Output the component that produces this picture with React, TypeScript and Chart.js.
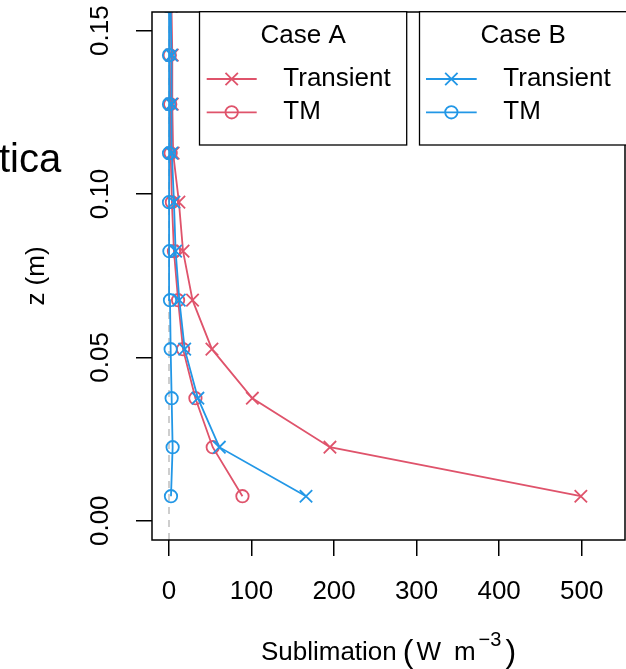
import React, { useEffect, useRef } from "react";
import { Chart, registerables } from "chart.js";

Chart.register(...registerables);

// ---- data ----
const zLevels = [0.0075, 0.0225, 0.0375, 0.0525, 0.0675, 0.0825, 0.0975, 0.1125, 0.1275, 0.1425, 0.1575];
const caseATransient = [499, 195, 101, 52, 28.5, 17, 12, 5, 4, 4, 3];
const caseATM = [89, 53, 32, 17, 11, 6, 3.5, 2, 1.5, 1, 1];
const caseBTransient = [166, 61, 35, 19, 12.5, 8, 6, 3.5, 3, 3, 2];
const caseBTM = [2.4, 4.4, 3.2, 2, 1.2, 0.5, 0, 0, 0, 0, 0];

const xTickValues = [0, 100, 200, 300, 400, 500];
const yTickValues = [0, 0.05, 0.1, 0.15];
const yTickLabels = ["0.00", "0.05", "0.10", "0.15"];

const legendTitles = ["Case A", "Case B"];
const legendLabels = ["Transient", "TM"];
const yTitle = "z (m)";
const sideText = "tica";

const RED = "#DF536B";
const BLUE = "#2297E6";
const FONT = "'Liberation Sans', Arial, Helvetica, sans-serif";
const FS = 26;
const LW = 1.8;
const CIRCLE_R = 6.2;
const CROSS_H = 6.2;

function drawMarker(ctx: CanvasRenderingContext2D, kind: string, x: number, y: number, color: string) {
  ctx.save();
  ctx.strokeStyle = color;
  ctx.lineWidth = LW;
  ctx.beginPath();
  if (kind === "cross") {
    ctx.moveTo(x - CROSS_H, y - CROSS_H);
    ctx.lineTo(x + CROSS_H, y + CROSS_H);
    ctx.moveTo(x - CROSS_H, y + CROSS_H);
    ctx.lineTo(x + CROSS_H, y - CROSS_H);
  } else {
    ctx.arc(x, y, CIRCLE_R, 0, Math.PI * 2);
  }
  ctx.stroke();
  ctx.restore();
}

export default function App() {
  const ref = useRef<HTMLCanvasElement>(null);

  useEffect(() => {
    if (!ref.current) return;
    const pts = (vals: number[]) => vals.map((x, i) => ({ x, y: zLevels[i] }));

    const decor = {
      id: "decor",
      beforeDatasetsDraw(chart: any) {
        const { ctx, chartArea } = chart;
        const x0 = chart.scales.x.getPixelForValue(0);
        ctx.save();
        ctx.strokeStyle = "#BEBEBE";
        ctx.lineWidth = 1.5;
        ctx.setLineDash([7, 6]);
        ctx.beginPath();
        ctx.moveTo(x0, chartArea.bottom);
        ctx.lineTo(x0, chartArea.top);
        ctx.stroke();
        ctx.restore();
      },
      afterDraw(chart: any) {
        const { ctx, chartArea } = chart;
        ctx.save();
        // frame
        ctx.strokeStyle = "#000";
        ctx.lineWidth = 1.5;
        ctx.strokeRect(chartArea.left, chartArea.top, chartArea.right - chartArea.left, chartArea.bottom - chartArea.top);

        // legends
        const boxes = [
          { left: 199.5, color: RED, lineL: 206.7, lineR: 256.7, textX: 283.3 },
          { left: 419.5, color: BLUE, lineL: 426, lineR: 476.7, textX: 503.3 },
        ];
        const boxW = 207.2;
        const boxTop = 11.7;
        const boxBottom = 145;
        boxes.forEach((b, k) => {
          ctx.fillStyle = "#fff";
          ctx.fillRect(b.left, boxTop, boxW, boxBottom - boxTop);
          ctx.strokeStyle = "#000";
          ctx.lineWidth = 1.3;
          ctx.strokeRect(b.left, boxTop, boxW, boxBottom - boxTop);
          ctx.fillStyle = "#000";
          ctx.font = `${FS}px ${FONT}`;
          ctx.textBaseline = "middle";
          ctx.textAlign = "center";
          ctx.fillText(legendTitles[k], b.left + boxW / 2, 35.5);
          const rows = [79, 112.3];
          rows.forEach((ry, r) => {
            ctx.strokeStyle = b.color;
            ctx.lineWidth = LW;
            ctx.beginPath();
            ctx.moveTo(b.lineL, ry);
            ctx.lineTo(b.lineR, ry);
            ctx.stroke();
            drawMarker(ctx, r === 0 ? "cross" : "circle", (b.lineL + b.lineR) / 2, ry, b.color);
            ctx.fillStyle = "#000";
            ctx.textAlign = "left";
            ctx.fillText(legendLabels[r], b.textX, ry);
          });
        });

        // x title with plotmath-like parentheses and superscript
        const big = `${FS + 6}px ${FONT}`;
        const norm = `${FS}px ${FONT}`;
        const sup = `${FS - 6}px ${FONT}`;
        const parts = [
          { t: "Sublimation", f: norm, dy: 0, gap: 0 },
          { t: "(", f: big, dy: 2, gap: 6 },
          { t: "W", f: norm, dy: 0, gap: 3 },
          { t: "m", f: norm, dy: 0, gap: 13 },
          { t: "\u2212", f: sup, dy: -14, gap: 3 },
          { t: "3", f: sup, dy: -14, gap: 0 },
          { t: ")", f: big, dy: 2, gap: 4 },
        ];
        let total = 0;
        parts.forEach((p) => {
          ctx.font = p.f;
          total += p.gap + ctx.measureText(p.t).width;
        });
        let cx = (chartArea.left + chartArea.right) / 2 - total / 2;
        const base = 660;
        ctx.fillStyle = "#000";
        ctx.textAlign = "left";
        ctx.textBaseline = "alphabetic";
        parts.forEach((p) => {
          ctx.font = p.f;
          cx += p.gap;
          ctx.fillText(p.t, cx, base + p.dy);
          cx += ctx.measureText(p.t).width;
        });

        // partial neighbouring title
        ctx.font = `40px ${FONT}`;
        ctx.fillText(sideText, -1, 172);
        ctx.restore();
      },
    };

    const chart = new Chart(ref.current, {
      type: "scatter",
      data: {
        datasets: [
          {
            label: "Case B TM",
            data: pts(caseBTM),
            showLine: true,
            borderColor: BLUE,
            backgroundColor: "rgba(0,0,0,0)",
            borderWidth: LW,
            pointStyle: "circle",
            pointRadius: CIRCLE_R,
            pointBorderWidth: LW,
            pointBorderColor: BLUE,
            pointBackgroundColor: "rgba(0,0,0,0)",
            tension: 0,
          },
          {
            label: "Case B Transient",
            data: pts(caseBTransient),
            showLine: true,
            borderColor: BLUE,
            backgroundColor: "rgba(0,0,0,0)",
            borderWidth: LW,
            pointStyle: "crossRot",
            pointRadius: CROSS_H / Math.SQRT1_2,
            pointBorderWidth: LW,
            pointBorderColor: BLUE,
            tension: 0,
          },
          {
            label: "Case A TM",
            data: pts(caseATM),
            showLine: true,
            borderColor: RED,
            backgroundColor: "rgba(0,0,0,0)",
            borderWidth: LW,
            pointStyle: "circle",
            pointRadius: CIRCLE_R,
            pointBorderWidth: LW,
            pointBorderColor: RED,
            pointBackgroundColor: "rgba(0,0,0,0)",
            tension: 0,
          },
          {
            label: "Case A Transient",
            data: pts(caseATransient),
            showLine: true,
            borderColor: RED,
            backgroundColor: "rgba(0,0,0,0)",
            borderWidth: LW,
            pointStyle: "crossRot",
            pointRadius: CROSS_H / Math.SQRT1_2,
            pointBorderWidth: LW,
            pointBorderColor: RED,
            tension: 0,
          },
        ],
      },
      options: {
        responsive: false,
        animation: false,
        devicePixelRatio: 1,
        events: [],
        layout: { autoPadding: false, padding: { left: 0, top: 12, right: 1, bottom: 0 } },
        plugins: { legend: { display: false }, tooltip: { enabled: false }, title: { display: false } },
        scales: {
          x: {
            type: "linear",
            min: -20.6,
            max: 552.5,
            afterBuildTicks: (s: any) => {
              s.ticks = xTickValues.map((v) => ({ value: v }));
            },
            afterFit: (s: any) => {
              s.height = 669 - 540;
              s.paddingLeft = 0;
              s.paddingRight = 0;
            },
            border: { display: false },
            grid: {
              display: true,
              drawOnChartArea: false,
              drawTicks: true,
              tickLength: 16,
              tickColor: "#000",
              tickWidth: 1.5,
              color: "#000",
              lineWidth: 1.5,
            },
            ticks: {
              autoSkip: false,
              maxRotation: 0,
              minRotation: 0,
              padding: 20,
              color: "#000",
              font: { family: FONT, size: FS },
              callback: (v: any) => String(v),
            },
            title: { display: false },
          },
          y: {
            type: "linear",
            min: -0.0059,
            max: 0.1557,
            afterBuildTicks: (s: any) => {
              s.ticks = yTickValues.map((v) => ({ value: v }));
            },
            afterFit: (s: any) => {
              s.width = 152;
              s.paddingTop = 0;
              s.paddingBottom = 0;
            },
            border: { display: false },
            grid: {
              display: true,
              drawOnChartArea: false,
              drawTicks: true,
              tickLength: 16,
              tickColor: "#000",
              tickWidth: 1.5,
              color: "#000",
              lineWidth: 1.5,
            },
            ticks: {
              autoSkip: false,
              minRotation: 90,
              maxRotation: 90,
              crossAlign: "center",
              padding: 10,
              color: "#000",
              font: { family: FONT, size: FS },
              callback: (v: any) => {
                const i = yTickValues.findIndex((t) => Math.abs(t - v) < 1e-9);
                return i >= 0 ? yTickLabels[i] : "";
              },
            },
            title: {
              display: true,
              text: yTitle,
              color: "#000",
              font: { family: FONT, size: FS },
              padding: { top: 21.5, bottom: 0 },
            },
          },
        },
      },
      plugins: [decor],
    } as any);

    return () => chart.destroy();
  }, []);

  return (
    <div style={{ position: "absolute", left: 0, top: 0, width: 626, height: 669, overflow: "hidden", background: "#fff" }}>
      <canvas ref={ref} width={626} height={669} style={{ display: "block" }} />
    </div>
  );
}
